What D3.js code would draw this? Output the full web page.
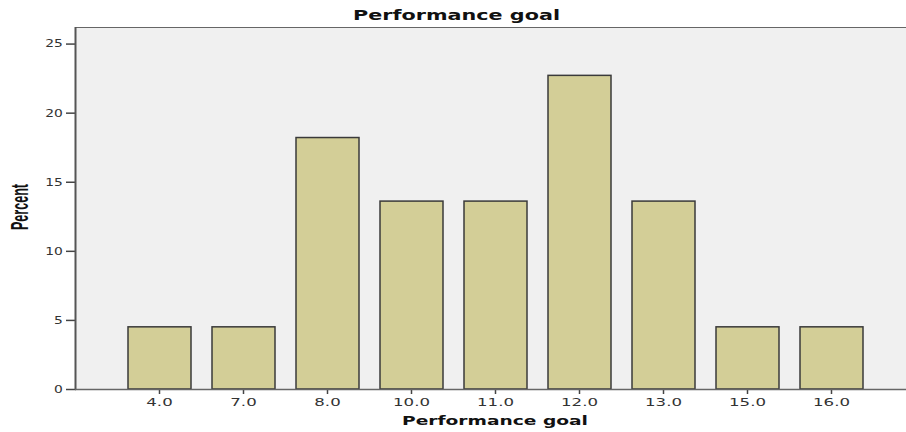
<!DOCTYPE html>
<html><head><meta charset="utf-8">
<script src="https://cdn.jsdelivr.net/npm/d3@7"></script>
<style>body{margin:0;background:#fff}svg{display:block}</style>
</head><body>
<svg id="c" width="906" height="432"></svg>
<script>
const categories = ["4.0","7.0","8.0","10.0","11.0","12.0","13.0","15.0","16.0"];
const percents = [4.5, 4.5, 18.2, 13.6, 13.6, 22.7, 13.6, 4.5, 4.5];
const yTicks = [0, 5, 10, 15, 20, 25];

const svg = d3.select("#c");
const plot = {left: 76, right: 915, top: 27, bottom: 389};

const x = d3.scaleBand().domain(categories).range([117.5, 873.5]).paddingInner(0.25).paddingOuter(0.125);
const y = d3.scaleLinear().domain([0, 26.2]).range([plot.bottom, plot.top]);

svg.append("rect").attr("x", plot.left).attr("y", plot.top)
  .attr("width", plot.right - plot.left).attr("height", plot.bottom - plot.top)
  .attr("fill", "#f0f0f0");
svg.append("line").attr("x1", plot.left).attr("x2", plot.right).attr("y1", plot.top + 0.5).attr("y2", plot.top + 0.5)
  .attr("stroke", "#666").attr("stroke-width", 1);

svg.selectAll("rect.bar").data(categories).join("rect").attr("class", "bar")
  .attr("x", d => x(d)).attr("width", x.bandwidth())
  .attr("y", (d, i) => y(percents[i])).attr("height", (d, i) => y(0) - y(percents[i]))
  .attr("fill", "#d3ce97").attr("stroke", "#3a3a3a").attr("stroke-width", 1.5);

// y axis
const ya = svg.append("g").attr("transform", `translate(${plot.left},0)`)
  .call(d3.axisLeft(y).tickValues(yTicks).tickSize(10).tickPadding(0).tickFormat(d3.format("d")));
ya.select(".domain").remove();
ya.selectAll(".tick line").attr("stroke", "#444").attr("stroke-width", 1.5);
ya.selectAll(".tick text").attr("font-family", "DejaVu Sans").attr("font-size", 10).attr("fill", "#333")
  .attr("x", -9.5).attr("dy", "0.34em").attr("transform", "scale(1.38,1)");
svg.append("line").attr("x1", plot.left - 0.5).attr("x2", plot.left - 0.5).attr("y1", plot.top).attr("y2", plot.bottom + 1)
  .attr("stroke", "#555").attr("stroke-width", 2);

// x axis
const xa = svg.append("g").attr("transform", `translate(0,${plot.bottom})`)
  .call(d3.axisBottom(x).tickSize(5).tickPadding(0));
xa.select(".domain").remove();
xa.selectAll(".tick line").attr("stroke", "#444").attr("stroke-width", 1.5);
xa.selectAll(".tick text").attr("font-family", "DejaVu Sans").attr("font-size", 10.5).attr("fill", "#333")
  .attr("y", 17).attr("dy", null).attr("transform", "scale(1.58,1)");
svg.append("line").attr("x1", plot.left - 1).attr("x2", plot.right).attr("y1", plot.bottom + 0.5).attr("y2", plot.bottom + 0.5)
  .attr("stroke", "#666").attr("stroke-width", 1.5);

// titles
svg.append("text").attr("x", 456.5).attr("y", 19.5).attr("text-anchor", "middle")
  .attr("font-family", "DejaVu Sans").attr("font-weight", "bold").attr("font-size", 13.5).attr("fill", "#111")
  .attr("textLength", 207).attr("lengthAdjust", "spacingAndGlyphs")
  .text("Performance goal");
svg.append("text").attr("x", 495).attr("y", 424.5).attr("text-anchor", "middle")
  .attr("font-family", "DejaVu Sans").attr("font-weight", "bold").attr("font-size", 13).attr("fill", "#111")
  .attr("textLength", 186).attr("lengthAdjust", "spacingAndGlyphs")
  .text("Performance goal");
svg.append("text").attr("transform", "translate(28,207) rotate(-90)").attr("text-anchor", "middle")
  .attr("font-family", "Liberation Sans").attr("font-weight", "bold").attr("font-size", 23)
  .attr("textLength", 46).attr("lengthAdjust", "spacingAndGlyphs")
  .attr("fill", "#111").text("Percent");
</script>
</body></html>
